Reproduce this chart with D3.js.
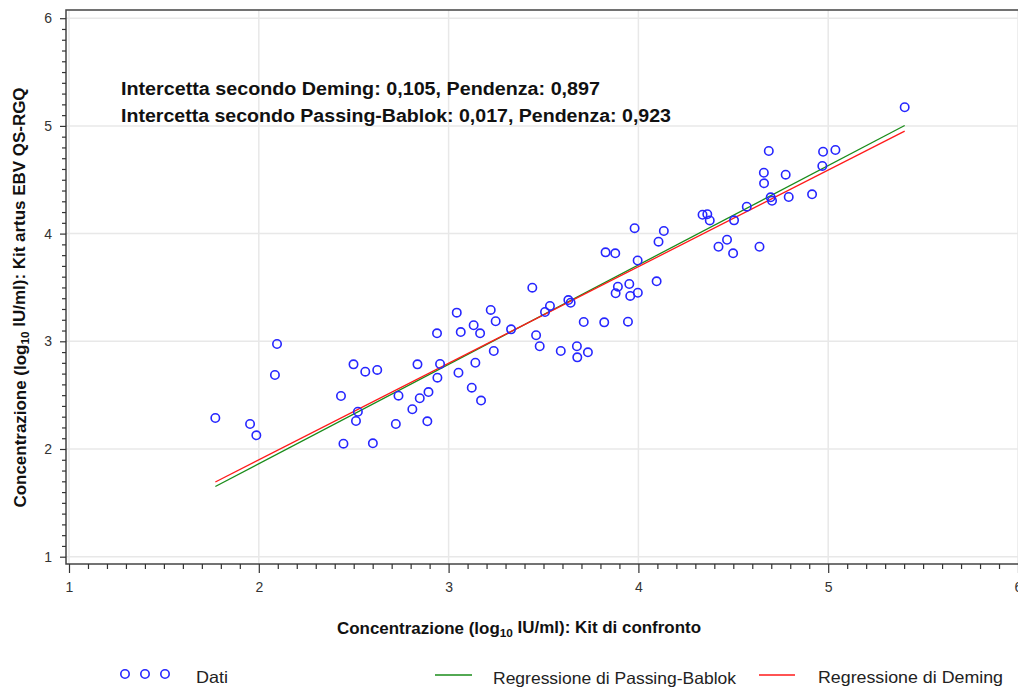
<!DOCTYPE html>
<html>
<head>
<meta charset="utf-8">
<script src="https://cdn.jsdelivr.net/npm/d3@7"></script>
<style>
  html, body { margin: 0; padding: 0; background: #fff; }
  svg { display: block; }
  .tick text { font-family: "Liberation Sans", Arial, sans-serif; font-size: 14px; fill: #333; }
</style>
</head>
<body>
<svg id="chart" width="1018" height="687"></svg>
<script>
// Comparison kit (x) vs. artus EBV QS-RGQ kit (y), log10 IU/ml
const kitConfronto = [
  1.771, 1.954, 1.987, 2.096, 2.085, 2.433, 2.499, 2.561, 2.624, 2.522,
  2.512, 2.446, 2.601, 2.736, 2.722, 2.809, 2.848, 2.894, 2.888, 2.836,
  2.955, 2.941, 2.939, 3.043, 3.064, 3.132, 3.052, 3.122, 3.141, 3.166,
  3.171, 3.222, 3.248, 3.329, 3.238, 3.441, 3.461, 3.480, 3.508, 3.534,
  3.591, 3.631, 3.643, 3.676, 3.678, 3.734, 3.712, 3.820, 3.945, 3.827,
  3.878, 3.980, 3.996, 3.892, 3.880, 3.952, 3.957, 3.997, 4.096, 4.106,
  4.134, 4.338, 4.363, 4.376, 4.422, 4.467, 4.499, 4.504, 4.571, 4.638,
  4.661, 4.662, 4.687, 4.697, 4.704, 4.776, 4.792, 4.915, 4.969, 4.973,
  5.038, 5.403
];
const kitArtus = [
  2.288, 2.232, 2.127, 2.975, 2.687, 2.492, 2.786, 2.718, 2.734, 2.346,
  2.260, 2.049, 2.053, 2.495, 2.232, 2.369, 2.471, 2.529, 2.257, 2.786,
  2.789, 2.662, 3.074, 3.266, 3.086, 3.149, 2.708, 2.569, 2.801, 3.074,
  2.450, 3.291, 3.186, 3.111, 2.910, 3.498, 3.056, 2.954, 3.272, 3.328,
  2.910, 3.383, 3.358, 2.954, 2.851, 2.898, 3.179, 3.176, 3.182, 3.826,
  3.817, 4.050, 3.750, 3.507, 3.446, 3.532, 3.421, 3.451, 3.557, 3.925,
  4.024, 4.175, 4.180, 4.122, 3.878, 3.943, 3.817, 4.123, 4.250, 3.878,
  4.565, 4.467, 4.767, 4.337, 4.305, 4.547, 4.340, 4.365, 4.628, 4.760,
  4.776, 5.173
];

// Regression fits (intercept, slope)
const deming = { intercetta: 0.105, pendenza: 0.897 };
const passingBablok = { intercetta: 0.017, pendenza: 0.923 };

const majorTicks = [1, 2, 3, 4, 5, 6];
const minorTicks = d3.range(10, 61).map(v => v / 10).filter(v => !Number.isInteger(v));

const annotationLines = [
  "Intercetta secondo Deming: 0,105, Pendenza: 0,897",
  "Intercetta secondo Passing-Bablok: 0,017, Pendenza: 0,923"
];
const annotationWidths = [479, 550];

const colors = { dati: "#2626ff", pb: "#1a8c1a", deming: "#ff1a1a" };

const svg = d3.select("#chart");
const plot = { left: 66, top: 10, right: 1024, bottom: 564 };

const x = d3.scaleLinear().domain([1, 6]).range([69, 1018]);
const y = d3.scaleLinear().domain([1, 6]).range([556.7, 18.2]);

// Gridlines
const grid = svg.append("g");
grid.selectAll("line.vx").data(majorTicks).join("line")
  .attr("x1", d => x(d)).attr("x2", d => x(d))
  .attr("y1", plot.top).attr("y2", plot.bottom)
  .attr("stroke", "#e8e8e8").attr("stroke-width", 1.5);
grid.selectAll("line.hy").data(majorTicks).join("line")
  .attr("x1", plot.left).attr("x2", plot.right)
  .attr("y1", d => y(d)).attr("y2", d => y(d))
  .attr("stroke", "#e8e8e8").attr("stroke-width", 1.5);

// Frame
svg.append("rect")
  .attr("x", plot.left).attr("y", plot.top)
  .attr("width", plot.right - plot.left).attr("height", plot.bottom - plot.top)
  .attr("fill", "none").attr("stroke", "#444").attr("stroke-width", 1.5);

// Axes: minor ticks then major ticks with labels
function styleAxis(g) {
  g.select(".domain").remove();
  g.selectAll(".tick line").attr("stroke", "#333").attr("stroke-width", 1.2);
}
svg.append("g").attr("transform", `translate(0,${plot.bottom})`)
  .call(d3.axisBottom(x).tickValues(minorTicks).tickSize(5).tickFormat(""))
  .call(styleAxis);
svg.append("g").attr("transform", `translate(0,${plot.bottom})`)
  .call(d3.axisBottom(x).tickValues(majorTicks).tickSize(9).tickPadding(9).tickFormat(d3.format("d")))
  .call(styleAxis);
svg.append("g").attr("transform", `translate(${plot.left},0)`)
  .call(d3.axisLeft(y).tickValues(minorTicks).tickSize(4).tickFormat(""))
  .call(styleAxis);
svg.append("g").attr("transform", `translate(${plot.left},0)`)
  .call(d3.axisLeft(y).tickValues(majorTicks).tickSize(6).tickPadding(8).tickFormat(d3.format("d")))
  .call(styleAxis);

// Regression lines over the observed x range
const [xmin, xmax] = d3.extent(kitConfronto);
const line = d3.line().x(d => x(d[0])).y(d => y(d[1]));
const fitPoints = f => [xmin, xmax].map(v => [v, f.intercetta + f.pendenza * v]);

svg.append("path").datum(fitPoints(passingBablok))
  .attr("d", line).attr("fill", "none").attr("stroke", colors.pb).attr("stroke-width", 1.3);
svg.append("path").datum(fitPoints(deming))
  .attr("d", line).attr("fill", "none").attr("stroke", colors.deming).attr("stroke-width", 1.3);

// Data points
svg.append("g").selectAll("circle")
  .data(d3.zip(kitConfronto, kitArtus)).join("circle")
  .attr("cx", d => x(d[0])).attr("cy", d => y(d[1]))
  .attr("r", 4.2).attr("fill", "none")
  .attr("stroke", colors.dati).attr("stroke-width", 1.6);

// Fit statistics
const font = "'Liberation Sans', Arial, sans-serif";
svg.append("g").selectAll("text").data(annotationLines).join("text")
  .attr("x", 121).attr("y", (d, i) => 95 + i * 27)
  .attr("font-family", font).attr("font-weight", "bold")
  .attr("font-size", 18).attr("fill", "#111")
  .attr("textLength", (d, i) => annotationWidths[i]).attr("lengthAdjust", "spacingAndGlyphs")
  .text(d => d);

// Axis titles with subscript
function axisTitle(sel, before, after) {
  sel.append("tspan").text(before);
  sel.append("tspan").attr("font-size", "0.7em").attr("dy", "0.25em").text("10");
  sel.append("tspan").attr("dy", "-0.25em").text(after);
}
svg.append("text")
  .attr("x", 519).attr("y", 634).attr("text-anchor", "middle")
  .attr("font-family", font).attr("font-weight", "bold").attr("font-size", 16).attr("fill", "#111")
  .attr("textLength", 364).attr("lengthAdjust", "spacingAndGlyphs")
  .call(axisTitle, "Concentrazione (log", " IU/ml): Kit di confronto");
svg.append("text")
  .attr("transform", "translate(26,297.5) rotate(-90)").attr("text-anchor", "middle")
  .attr("font-family", font).attr("font-weight", "bold").attr("font-size", 16).attr("fill", "#111")
  .attr("textLength", 420).attr("lengthAdjust", "spacingAndGlyphs")
  .call(axisTitle, "Concentrazione (log", " IU/ml): Kit artus EBV QS-RGQ");

// Legend
const legend = svg.append("g")
  .attr("font-family", font).attr("font-size", 16.5).attr("fill", "#222");
legend.selectAll("circle").data([125, 145, 165]).join("circle")
  .attr("cx", d => d).attr("cy", 674).attr("r", 4.2)
  .attr("fill", "none").attr("stroke", colors.dati).attr("stroke-width", 1.6);
legend.append("text").attr("x", 196).attr("y", 683).attr("textLength", 32).attr("lengthAdjust", "spacingAndGlyphs").text("Dati");
legend.append("line").attr("x1", 435).attr("x2", 472).attr("y1", 675).attr("y2", 675)
  .attr("stroke", colors.pb).attr("stroke-width", 1.3);
legend.append("text").attr("x", 493).attr("y", 684).attr("textLength", 243).attr("lengthAdjust", "spacingAndGlyphs").text("Regressione di Passing-Bablok");
legend.append("line").attr("x1", 759).attr("x2", 795).attr("y1", 675).attr("y2", 675)
  .attr("stroke", colors.deming).attr("stroke-width", 1.3);
legend.append("text").attr("x", 818).attr("y", 683).attr("textLength", 185).attr("lengthAdjust", "spacingAndGlyphs").text("Regressione di Deming");
</script>
</body>
</html>
